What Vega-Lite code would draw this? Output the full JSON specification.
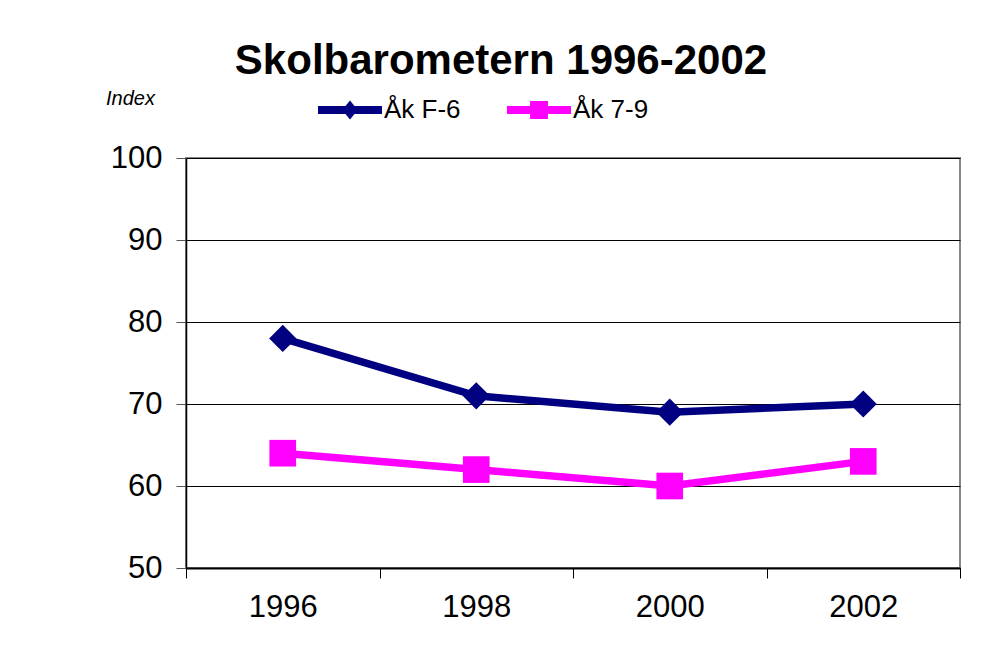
{
  "$schema": "https://vega.github.io/schema/vega-lite/v6.json",
  "width": 774,
  "height": 410,
  "autosize": {"type": "none"},
  "padding": {"left": 186, "top": 158, "right": 22, "bottom": 85},
  "background": "white",
  "title": {
    "text": "Skolbarometern 1996-2002",
    "font": "Liberation Sans",
    "fontSize": 42,
    "fontWeight": "bold",
    "color": "black",
    "anchor": "middle",
    "frame": "group",
    "dx": -72,
    "baseline": "alphabetic",
    "offset": -38
  },
  "data": {
    "values": [
      {"year": "1996", "series": "Åk F-6", "value": 78},
      {"year": "1998", "series": "Åk F-6", "value": 71},
      {"year": "2000", "series": "Åk F-6", "value": 69},
      {"year": "2002", "series": "Åk F-6", "value": 70},
      {"year": "1996", "series": "Åk 7-9", "value": 64},
      {"year": "1998", "series": "Åk 7-9", "value": 62},
      {"year": "2000", "series": "Åk 7-9", "value": 60},
      {"year": "2002", "series": "Åk 7-9", "value": 63}
    ]
  },
  "encoding": {
    "x": {
      "field": "year",
      "type": "ordinal",
      "scale": {"type": "band", "paddingInner": 0, "paddingOuter": 0},
      "axis": {
        "title": null,
        "labelAngle": 0,
        "tickBand": "extent",
        "domainColor": "black",
        "domainWidth": 2,
        "tickColor": "black",
        "tickWidth": 1,
        "tickSize": 10,
        "labelPadding": 14,
        "labelFontSize": 31,
        "labelFont": "Liberation Sans",
        "labelColor": "black",
        "grid": false
      }
    },
    "y": {
      "field": "value",
      "type": "quantitative",
      "scale": {"domain": [50, 100], "zero": false, "nice": false},
      "axis": {
        "values": [50, 60, 70, 80, 90, 100],
        "title": "Index",
        "titleAngle": 0,
        "titleFont": "Liberation Sans",
        "titleFontStyle": "italic",
        "titleFontWeight": "normal",
        "titleFontSize": 20,
        "titleColor": "black",
        "titleAlign": "center",
        "titleBaseline": "alphabetic",
        "titleX": -56,
        "titleY": -54,
        "grid": true,
        "gridColor": "black",
        "gridWidth": 1,
        "gridOpacity": 1,
        "domainColor": "black",
        "domainWidth": 1.5,
        "tickColor": "#555555",
        "tickSize": 10,
        "labelPadding": 14,
        "labelFontSize": 31,
        "labelFont": "Liberation Sans",
        "labelColor": "black"
      }
    },
    "color": {
      "field": "series",
      "type": "nominal",
      "scale": {"domain": ["Åk F-6", "Åk 7-9"], "range": ["#000080", "#FF00FF"]},
      "legend": {
        "orient": "none",
        "legendX": 132,
        "legendY": -80,
        "direction": "horizontal",
        "title": null,
        "labelFont": "Liberation Sans",
        "labelFontSize": 26,
        "labelColor": "black",
        "labelOffset": 2,
        "columnPadding": 46,
        "symbolSize": 4096,
        "symbolStrokeWidth": 0,
        "symbolOpacity": 1
      }
    }
  },
  "layer": [
    {
      "mark": {"type": "line", "strokeWidth": 7.5}
    },
    {
      "transform": [{"filter": "datum.series === 'Åk F-6'"}],
      "mark": {"type": "point", "shape": "diamond", "filled": true, "opacity": 1, "size": 740}
    },
    {
      "transform": [{"filter": "datum.series === 'Åk 7-9'"}],
      "mark": {"type": "point", "shape": "square", "filled": true, "opacity": 1, "size": 710}
    },
    {
      "transform": [{"filter": "datum.value < 0"}],
      "mark": {"type": "point", "filled": true, "opacity": 1},
      "encoding": {
        "shape": {
          "field": "series",
          "type": "nominal",
          "scale": {
            "domain": ["Åk F-6", "Åk 7-9"],
            "range": [
              "M-1,-0.125L-0.14,-0.125L0,-0.3L0.14,-0.125L1,-0.125L1,0.125L0.14,0.125L0,0.3L-0.14,0.125L-1,0.125Z",
              "M-1,-0.125L-0.28,-0.125L-0.28,-0.28L0.28,-0.28L0.28,-0.125L1,-0.125L1,0.125L0.28,0.125L0.28,0.28L-0.28,0.28L-0.28,0.125L-1,0.125Z"
            ]
          }
        }
      }
    }
  ],
  "config": {
    "view": {"stroke": "#888888", "strokeWidth": 2},
    "font": "Liberation Sans"
  }
}
